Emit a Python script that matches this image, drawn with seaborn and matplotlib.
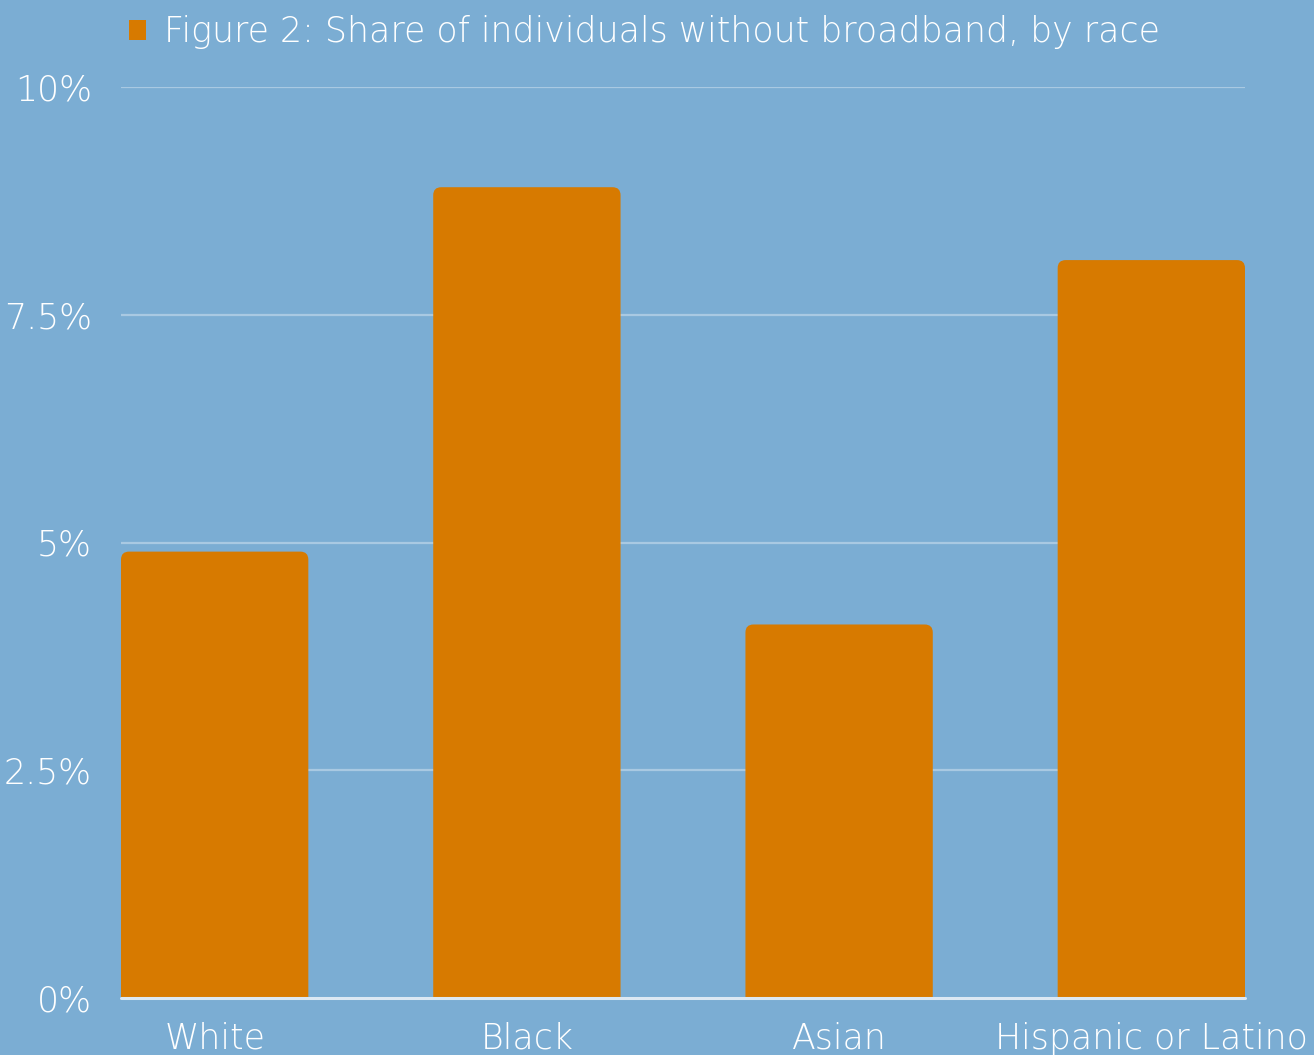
import matplotlib
matplotlib.use("Agg")
import matplotlib.pyplot as plt
from matplotlib.patches import FancyBboxPatch, Patch
import seaborn as sns
import pandas as pd

categories = ["White", "Black", "Asian", "Hispanic or Latino"]
values = [4.9, 8.9, 4.1, 8.1]
yticks = [0, 2.5, 5, 7.5, 10]
ytick_labels = ["0%", "2.5%", "5%", "7.5%", "10%"]
series_name = "Figure 2: Share of individuals without broadband, by race"

BG = "#7BADD3"
BAR = "#D77A00"
FONT = ["DejaVu Sans"]
WEIGHT = 200
FS = 25

sns.set_theme(style="white")
plt.rcParams["font.family"] = FONT

df = pd.DataFrame({"race": categories, "share": values})

fig = plt.figure(figsize=(13.14, 10.55), dpi=100, facecolor=BG)
ax = fig.add_axes([121 / 1314, 1 - 998 / 1055, (1245 - 121) / 1314, (998 - 87) / 1055])
ax.set_facecolor(BG)

sns.barplot(data=df, x="race", y="share", color=BAR, saturation=1, width=0.6,
            ax=ax, zorder=3)

# round the top corners of bars
rx = 8 / 311.7
ry = 8 / 91.2
for p in list(ax.patches):
    x, y = p.get_x(), p.get_y()
    w, h = p.get_width(), p.get_height()
    fb = FancyBboxPatch((x, y - 1), w, h + 1,
                        boxstyle=f"round,pad=0,rounding_size={rx}",
                        mutation_aspect=ry / rx,
                        facecolor=BAR, edgecolor="none", zorder=3)
    ax.add_patch(fb)
    p.set_visible(False)

ax.set_xlim(-0.3, 3.3)
ax.set_ylim(0, 10)
ax.set_yticks(yticks)
ax.set_yticklabels(ytick_labels)
ax.set_xlabel("")
ax.set_ylabel("")

for yv in yticks[1:]:
    ax.axhline(yv, color="white", alpha=0.35, lw=1.6, zorder=1)
ax.axhline(0, color="#DCE8F3", lw=2.2, zorder=4, clip_on=False)

for s in ax.spines.values():
    s.set_visible(False)

ax.tick_params(axis="y", length=0, pad=21, labelsize=FS, labelcolor="white")
ax.tick_params(axis="x", length=0, pad=17, labelsize=FS, labelcolor="white")
for t in ax.get_xticklabels() + ax.get_yticklabels():
    t.set_fontweight(WEIGHT)

handle = Patch(facecolor=BAR, edgecolor="none")
leg = ax.legend([handle], [series_name], loc="upper left",
                bbox_to_anchor=(129 / 1314, 1 - 15 / 1055),
                bbox_transform=fig.transFigure, frameon=False, fontsize=FS,
                handlelength=0.5, handleheight=0.5, handletextpad=0.52,
                borderaxespad=0, borderpad=0)
for t in leg.get_texts():
    t.set_color("white")
    t.set_fontweight(WEIGHT)

fig.savefig("out.png", dpi=100, facecolor=BG)
